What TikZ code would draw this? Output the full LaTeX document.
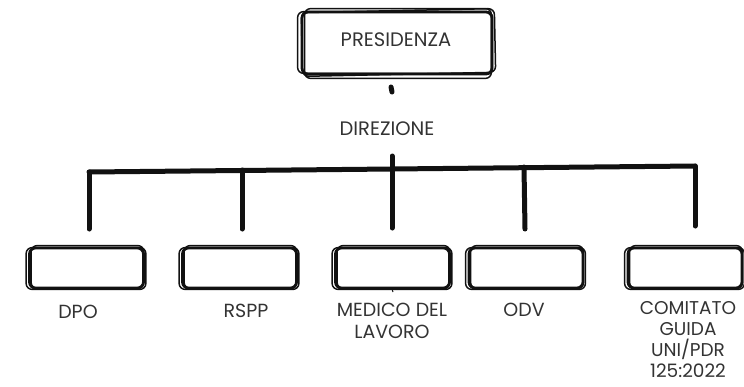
\documentclass[tikz,border=0pt]{standalone}
\usepackage{fontspec}
\setmainfont{Poppins}
\definecolor{ink}{HTML}{111111}
\definecolor{txt}{HTML}{333333}
\begin{document}
\begin{tikzpicture}[x=1pt,y=-1pt,
  bx/.style={draw=ink,line width=2.8pt,rounded corners=6pt,inner sep=0pt},
  sk/.style={draw=ink,line width=1.5pt,rounded corners=6pt},
  conn/.style={draw=ink,line width=5pt,line cap=round},
  lbl/.style={text=txt,font=\fontsize{19}{22}\selectfont,align=center,inner sep=0pt}]
\useasboundingbox (0,0) rectangle (744,386);
% top box
\node[bx,minimum width=190pt,minimum height=62pt] (pres) at (397,43) {};
\draw[sk] ([shift={(-3,-2)}]pres.south west) rectangle ([shift={(-1,1)}]pres.north east);
\draw[sk,rotate around={1.2:(pres.center)}] ([shift={(2,1)}]pres.south west) rectangle ([shift={(1,-2)}]pres.north east);
\draw[sk] ([shift={(4,3)}]pres.south west) rectangle ([shift={(-2,-2)}]pres.north east);
\node[lbl,font=\fontsize{19.5}{22}\selectfont] (prest) at (396,40) {PRESIDENZA};
% direzione
\node[lbl,font=\fontsize{19.5}{22}\selectfont] (dir) at (387,129) {DIREZIONE};
\coordinate (dota) at (391,87);
\coordinate (dotb) at (392,92);
\draw[conn,line width=5pt] (dota) -- (dotb);
\coordinate (vtop) at (392,156);
\coordinate (vbot) at (392,228);
\coordinate (hl) at (89,172);
\coordinate (hr) at (695,166);
\draw[conn] (hl) -- (hr);
\draw[conn] (vtop) -- (vbot);
% child boxes
\foreach \n/\cx in {dpo/86.5,rspp/239.5,med/392.5,odv/526,com/685}{
  \node[bx,minimum width=114pt,minimum height=40pt] (\n) at (\cx,268) {};
  \draw[sk] ([shift={(-2,0)}]\n.south west) rectangle ([shift={(1,1)}]\n.north east);
  \draw[sk] ([shift={(3,-1)}]\n.south west) rectangle ([shift={(-1,-1)}]\n.north east);
}
\coordinate (d1) at (89,229);
\coordinate (d2) at (242,229);
\coordinate (d4) at (525,229);
\coordinate (d5) at (695,226);
\draw[conn] (d1) -- (89,172);
\draw[conn] (d2) -- (242,170);
\draw[conn] (d4) -- (524,167);
\draw[conn] (d5) -- (hr);
% small tick under medico
\coordinate (ta) at (392,289);
\coordinate (tb) at (393,292);
\draw[draw=ink,line width=1pt] (ta) -- (tb);
% labels
\node[lbl] (ldpo) at (78,312) {DPO};
\node[lbl] (lrspp) at (246,311) {RSPP};
\node[lbl] (lmed) at (392,321) {MEDICO DEL\\LAVORO};
\node[lbl] (lodv) at (524,310) {ODV};
\node[lbl,font=\fontsize{18.5}{21}\selectfont] (lcom) at (688,340) {COMITATO\\GUIDA\\UNI/PDR\\125:2022};
\end{tikzpicture}
\end{document}
